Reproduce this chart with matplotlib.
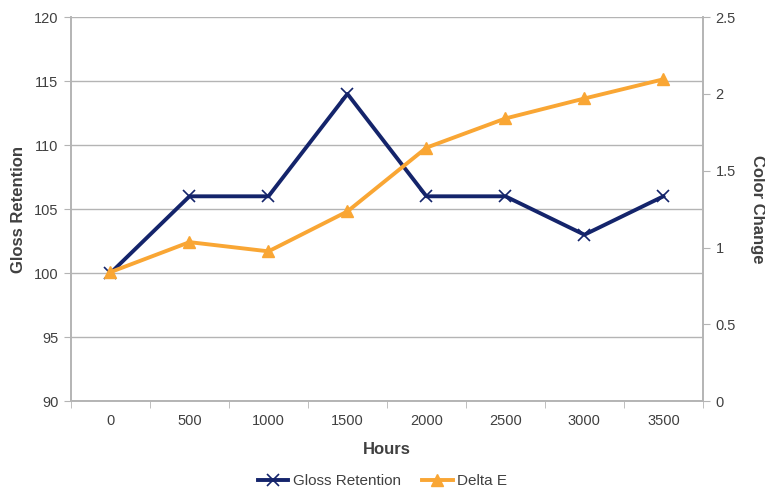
import numpy as np
import matplotlib.pyplot as plt

plt.rcParams['font.family'] = ['Liberation Sans', 'DejaVu Sans']

hours = ['0', '500', '1000', '1500', '2000', '2500', '3000', '3500']
gloss = [100, 106, 106, 114, 106, 106, 103, 106]
delta_e = [0.84, 1.035, 0.975, 1.235, 1.65, 1.84, 1.97, 2.095]

navy = '#14246b'
orange = '#f9a634'
txt = '#404040'
grid = '#b4b4b4'

fig = plt.figure(figsize=(7.65, 4.88), dpi=100)
ax = fig.add_axes([0.0928, 0.178, 0.826, 0.787])
ax2 = ax.twinx()

x = np.arange(len(hours))
l1, = ax.plot(x, gloss, color=navy, lw=2.8, marker='x', ms=9, mew=1.2, label='Gloss Retention', zorder=3)
l2, = ax2.plot(x, delta_e, color=orange, lw=2.8, marker='^', ms=8, label='Delta E', zorder=3)

ax.set_xlim(-0.5, len(hours) - 0.5)
ax.set_ylim(90, 120)
ax.set_yticks(np.arange(90, 121, 5))
ax2.set_ylim(0, 2.5)
ax2.set_yticks([0, 0.5, 1, 1.5, 2, 2.5])
ax2.set_yticklabels(['0', '0.5', '1', '1.5', '2', '2.5'])

ax.set_xticks(x)
ax.set_xticklabels(hours)
ax.set_xticks(np.arange(-0.5, len(hours)), minor=True)
ax.tick_params(axis='x', which='major', length=0, pad=9, labelsize=10.5, colors=txt)
ax.tick_params(axis='x', which='minor', length=5, color=grid)
ax.tick_params(axis='y', length=5, color=grid, labelsize=10.5, labelcolor=txt, pad=4)
ax2.tick_params(axis='y', length=5, color=grid, labelsize=10.5, labelcolor=txt, pad=4)

ax.yaxis.grid(True, color=grid, lw=1)
ax.set_axisbelow(True)
for a in (ax, ax2):
    a.spines['top'].set_visible(False)
    for s in ('left', 'right', 'bottom'):
        a.spines[s].set_color(grid)
        a.spines[s].set_linewidth(1.2)

ax.set_xlabel('Hours', fontsize=12, fontweight='bold', color=txt, labelpad=10)
ax.set_ylabel('Gloss Retention', fontsize=12, fontweight='bold', color=txt, labelpad=6)
ax2.set_ylabel('Color Change', fontsize=12, fontweight='bold', color=txt, rotation=270, labelpad=21)

fig.legend(handles=[l1, l2], loc='lower center', bbox_to_anchor=(0.5, -0.028), ncol=2,
           frameon=False, fontsize=11, labelcolor=txt, handlelength=2.0, handletextpad=0.3,
           columnspacing=1.4)

fig.savefig('out.png', dpi=100)
